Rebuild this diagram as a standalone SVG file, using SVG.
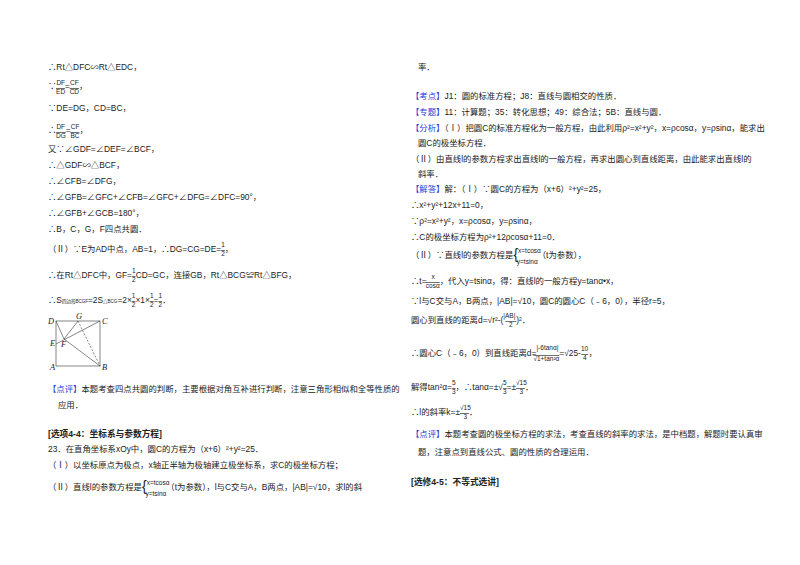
<svg xmlns="http://www.w3.org/2000/svg" width="800" height="565" viewBox="0 0 800 565">
<style>
text{font-family:"Liberation Sans","Noto Sans CJK SC",sans-serif;font-size:8.4px;fill:#222}
.s{font-size:6.5px}
.o{text-decoration:overline}
.b{fill:#2b3bd1}
.h{font-weight:bold;font-size:8.7px}
line,path{stroke:#333;stroke-width:0.6;fill:none}
.f{font-style:italic;font-family:"Liberation Serif",serif}
</style>
<rect width="800" height="565" fill="#fff"/>
<g id="left">
<text x="48" y="70">∴Rt△DFC∽Rt△EDC，</text>
<text x="48" y="89">∵<tspan class="s" dy="-4">DF</tspan><tspan class="s o" dx="-9" dy="9">ED</tspan><tspan dy="-5">=</tspan><tspan class="s" dy="-4">CF</tspan><tspan class="s o" dx="-9" dy="9">CD</tspan><tspan dy="-5">，</tspan></text>
<text x="48" y="111">∵DE=DG，CD=BC，</text>
<text x="48" y="133">∴<tspan class="s" dy="-4">DF</tspan><tspan class="s o" dx="-9" dy="9">DG</tspan><tspan dy="-5">=</tspan><tspan class="s" dy="-4">CF</tspan><tspan class="s o" dx="-9" dy="9">BC</tspan><tspan dy="-5">，</tspan></text>
<text x="48" y="152">又∵∠GDF=∠DEF=∠BCF，</text>
<text x="48" y="168">∴△GDF∽△BCF，</text>
<text x="48" y="184">∴∠CFB=∠DFG，</text>
<text x="48" y="200">∴∠GFB=∠GFC+∠CFB=∠GFC+∠DFG=∠DFC=90°，</text>
<text x="48" y="216">∴∠GFB+∠GCB=180°，</text>
<text x="48" y="232">∴B，C，G，F四点共圆．</text>
<text x="48" y="252">（Ⅱ）∵E为AD中点，AB=1，∴DG=CG=DE=<tspan class="s" dy="-5">1</tspan><tspan class="s o" dx="-3.6" dy="9">2</tspan><tspan dy="-4">，</tspan></text>
<text x="48" y="278">∴在Rt△DFC中，GF=<tspan class="s" dy="-5">1</tspan><tspan class="s o" dx="-3.6" dy="9">2</tspan><tspan dy="-4">CD=GC，连接GB，Rt△BCG≌Rt△BFG，</tspan></text>
<text x="48" y="303">∴S<tspan style="font-size:4.5px">四边形BCGF</tspan>=2S<tspan style="font-size:4.5px">△BCG</tspan>=2×<tspan class="s" dy="-5">1</tspan><tspan class="s o" dx="-3.6" dy="9">2</tspan><tspan dy="-4">×1×</tspan><tspan class="s" dy="-5">1</tspan><tspan class="s o" dx="-3.6" dy="9">2</tspan><tspan dy="-4">=</tspan><tspan class="s" dy="-5">1</tspan><tspan class="s o" dx="-3.6" dy="9">2</tspan><tspan dy="-4">．</tspan></text>
</g>
<g id="figure">
<rect x="56" y="321" width="44" height="45" style="stroke:#333;stroke-width:0.6;fill:none"/>
<line x1="56" y1="321" x2="64" y2="339"/>
<line x1="64" y1="339" x2="100" y2="366"/>
<line x1="78" y1="321" x2="64" y2="339"/>
<line x1="56" y1="344" x2="100" y2="321"/>
<line x1="78" y1="321" x2="100" y2="366" stroke-dasharray="2,1.5"/>
<text x="48" y="324" class="f">D</text>
<text x="76" y="319" class="f">G</text>
<text x="102" y="324" class="f">C</text>
<text x="50" y="346" class="f">E</text>
<text x="61" y="347" class="f">F</text>
<text x="50" y="370" class="f">A</text>
<text x="102" y="370" class="f">B</text>
</g>
<g id="left2">
<text x="48" y="392"><tspan class="b">【点评】</tspan>本题考查四点共圆的判断，主要根据对角互补进行判断，注意三角形相似和全等性质的</text>
<text x="58" y="408">应用．</text>
<text class="h" x="48" y="437">[选项4-4：坐标系与参数方程]</text>
<text x="48" y="452">23．在直角坐标系xOy中，圆C的方程为（x+6）²+y²=25．</text>
<text x="48" y="468">（Ⅰ）以坐标原点为极点，x轴正半轴为极轴建立极坐标系，求C的极坐标方程；</text>
<text x="48" y="490">（Ⅱ）直线l的参数方程是<tspan style="font-size:14px" dy="1">{</tspan><tspan class="s" dy="-6">x=tcosα</tspan><tspan class="s" dx="-24" dy="11">y=tsinα</tspan><tspan dy="-6">（t为参数），l与C交与A，B两点，|AB|=√10，求l的斜</tspan></text>
</g>
<g id="right">
<text x="418" y="70">率．</text>
<text x="411" y="99"><tspan class="b">【考点】</tspan>J1：圆的标准方程；J8：直线与圆相交的性质．</text>
<text x="411" y="115"><tspan class="b">【专题】</tspan>11：计算题；35：转化思想；49：综合法；5B：直线与圆．</text>
<text x="411" y="131"><tspan class="b">【分析】</tspan>（Ⅰ）把圆C的标准方程化为一般方程，由此利用ρ²=x²+y²，x=ρcosα，y=ρsinα，能求出</text>
<text x="418" y="146">圆C的极坐标方程．</text>
<text x="411" y="162">（Ⅱ）由直线l的参数方程求出直线l的一般方程，再求出圆心到直线距离，由此能求出直线l的</text>
<text x="418" y="177">斜率．</text>
<text x="411" y="192"><tspan class="b">【解答】</tspan>解：（Ⅰ）∵圆C的方程为（x+6）²+y²=25，</text>
<text x="411" y="208">∴x²+y²+12x+11=0，</text>
<text x="411" y="224">∵ρ²=x²+y²，x=ρcosα，y=ρsinα，</text>
<text x="411" y="240">∴C的极坐标方程为ρ²+12ρcosα+11=0．</text>
<text x="411" y="258">（Ⅱ）∵直线l的参数方程是<tspan style="font-size:14px" dy="1">{</tspan><tspan class="s" dy="-6">x=tcosα</tspan><tspan class="s" dx="-24" dy="11">y=tsinα</tspan><tspan dy="-6">（t为参数），</tspan></text>
<text x="411" y="284">∴t=<tspan class="s" dx="5" dy="-5">x</tspan><tspan class="s o" dx="-9" dy="9">cosα</tspan><tspan dy="-4">，代入y=tsinα，得：直线l的一般方程y=tanα•x，</tspan></text>
<text x="411" y="304">∵l与C交与A，B两点，|AB|=√10，圆C的圆心C（﹣6，0），半径r=5，</text>
<text x="411" y="323">圆心到直线的距离d=√<tspan>r²-(</tspan><tspan class="s" dy="-5">|AB|</tspan><tspan class="s o" dx="-10" dy="9">&#160;&#160;2&#160;&#160;</tspan><tspan dy="-4">)²．</tspan></text>
<text x="411" y="356">∴圆心C（﹣6，0）到直线距离d=<tspan class="s" dy="-6">|-6tanα|</tspan><tspan class="s o" dx="-25" dy="11">√1+tan²α</tspan><tspan dy="-5">=√25-</tspan><tspan class="s" dy="-5">10</tspan><tspan class="s o" dx="-7" dy="9">&#160;4&#160;</tspan><tspan dy="-4">，</tspan></text>
<text x="411" y="390">解得tan²α=<tspan class="s" dy="-5">5</tspan><tspan class="s o" dx="-3.6" dy="9">3</tspan><tspan dy="-4">，∴tanα=±√</tspan><tspan class="s" dy="-5">5</tspan><tspan class="s o" dx="-3.6" dy="9">3</tspan><tspan dy="-4">=±</tspan><tspan class="s" dy="-5">√15</tspan><tspan class="s o" dx="-11" dy="9">&#160;&#160;3&#160;</tspan><tspan dy="-4">．</tspan></text>
<text x="411" y="415">∴l的斜率k=±<tspan class="s" dy="-5">√15</tspan><tspan class="s o" dx="-11" dy="9">&#160;&#160;3&#160;</tspan><tspan dy="-4">．</tspan></text>
<text x="411" y="437"><tspan class="b">【点评】</tspan>本题考查圆的极坐标方程的求法，考查直线的斜率的求法，是中档题，解题时要认真审</text>
<text x="418" y="455">题，注意点到直线公式、圆的性质的合理运用．</text>
<text class="h" x="411" y="485">[选修4-5：不等式选讲]</text>
</g>
</svg>
